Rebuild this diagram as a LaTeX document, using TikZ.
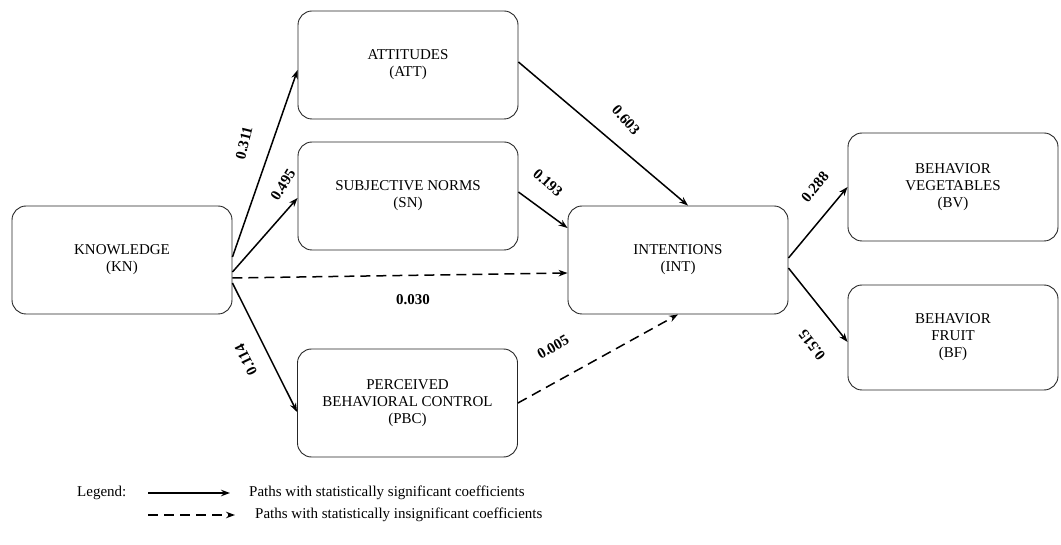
\documentclass[tikz,border=0pt]{standalone}
\usepackage{fontspec}
\setmainfont{Liberation Serif}
\usetikzlibrary{arrows.meta}
\begin{document}
\begin{tikzpicture}[x=1pt,y=-1pt,
  box/.style={draw=black!85, line width=0.9pt, rounded corners=14pt, minimum width=220pt, minimum height=108pt, align=center, inner sep=0pt, font=\fontsize{15}{17}\selectfont},
  sig/.style={line width=1.5pt, -{Stealth[length=9pt,width=6.5pt]}},
  insig/.style={sig, dash pattern=on 10pt off 6pt},
  coef/.style={font=\fontsize{15}{17}\selectfont\bfseries, inner sep=1pt},
  legtext/.style={font=\fontsize{15}{17}\selectfont, anchor=west, inner sep=0pt}
]
\useasboundingbox (0,0) rectangle (1061,545);
% boxes
\node[box] (KN) at (122,260) {KNOWLEDGE\\(KN)};
\node[box] (ATT) at (408,65) {ATTITUDES\\(ATT)};
\node[box] (SN) at (408,196) {SUBJECTIVE NORMS\\(SN)};
\node[box] (PBC) at (407.5,403) {PERCEIVED\\BEHAVIORAL CONTROL\\(PBC)};
\node[box] (INT) at (678,260) {INTENTIONS\\(INT)};
\node[box, minimum width=210pt] (BV) at (953,187) {BEHAVIOR\\VEGETABLES\\(BV)};
\node[box, minimum width=210pt, minimum height=105pt] (BF) at (953,337.5) {BEHAVIOR\\FRUIT\\(BF)};
% connectors
\draw[sig] ([yshift=3pt]KN.east) -- ([yshift=-5pt]ATT.west);
\draw[sig] ([yshift=-12pt]KN.east) -- ([yshift=-2pt]SN.west);
\draw[insig] ([yshift=-18pt]KN.east) -- ([yshift=-13pt]INT.west);
\draw[sig] ([yshift=-23pt]KN.east) -- ([yshift=-9pt]PBC.west);
\draw[sig] ([yshift=3pt]ATT.east) -- ([xshift=10pt]INT.north);
\draw[sig] ([yshift=4pt]SN.east) -- ([yshift=32pt]INT.west);
\draw[insig] (PBC.east) -- (INT.south);
\draw[sig] ([yshift=2pt]INT.east) -- (BV.west);
\draw[sig] ([yshift=-8pt]INT.east) -- ([yshift=-4.5pt]BF.west);
% coefficients
\node[coef, rotate=76] (c1) at (244,143) {0.311};
\node[coef, rotate=58] (c2) at (283,185) {0.495};
\node[coef, rotate=-48] (c3) at (626,120) {0.603};
\node[coef, rotate=-42] (c4) at (548,183) {0.193};
\node[coef] (c5) at (413,300) {0.030};
\node[coef, rotate=116] (c6) at (246,360) {0.114};
\node[coef, rotate=30] (c7) at (553,347) {0.005};
\node[coef, rotate=50] (c8) at (815,187) {0.288};
\node[coef, rotate=128] (c9) at (812,345) {0.515};
% legend
\node[legtext] (leg) at (77,493) {Legend:};
\coordinate (l1a) at (148,493);
\coordinate (l1b) at (230,493);
\coordinate (l2a) at (148,515);
\coordinate (l2b) at (235,515);
\draw[sig] (l1a) -- (l1b);
\draw[insig] (l2a) -- (l2b);
\node[legtext] (t1) at (249,493) {Paths with statistically significant coefficients};
\node[legtext] (t2) at (255,515) {Paths with statistically insignificant coefficients};
\end{tikzpicture}
\end{document}
